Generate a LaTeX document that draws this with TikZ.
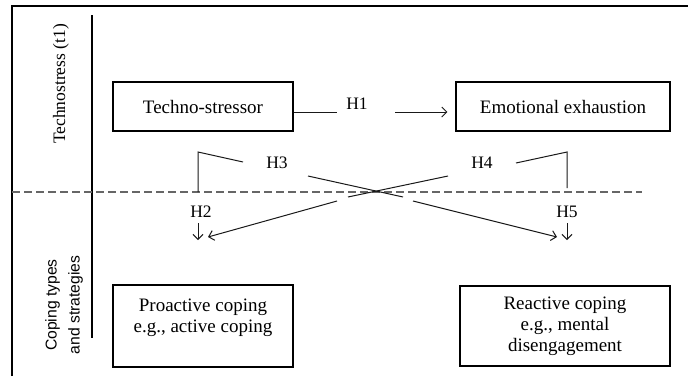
\documentclass[tikz,border=0pt]{standalone}
\usepackage{fontspec}
\setmainfont{Liberation Serif}
\setsansfont{Liberation Sans}
\usetikzlibrary{arrows.meta}
\begin{document}
\begin{tikzpicture}[x=1pt,y=-1pt,
  box/.style={draw, line width=1.1pt, inner sep=0pt, align=center,
    font=\fontsize{19}{21}\selectfont},
  hlab/.style={inner sep=0pt, font=\fontsize{17.5}{20}\selectfont},
  conn/.style={line width=1pt, draw=black!90},
  arr/.style={conn, -{Straight Barb[length=5pt,width=10pt]}},
  sepdash/.style={line width=1.3pt, draw=black!60, dash pattern=on 8pt off 4pt}]
\useasboundingbox (0,0) rectangle (688,376);
% frame and separators
\draw[line width=2.2pt] (12,376) -- (12,6) -- (688,6);
\draw[line width=1.1pt] (92,15) -- (92,338);
\draw[sepdash] (12,192) -- (642,192);
% side labels
\node[rotate=90, inner sep=0pt, font=\fontsize{17.5}{20}\selectfont] (lt) at (61,84) {Technostress (t1)};
\node[rotate=90, inner sep=0pt, align=center, font=\sffamily\fontsize{15.7}{23}\selectfont] (lc) at (64,305) {Coping types\\and strategies};
% boxes
\node[box, minimum width=180pt, minimum height=49pt] (ts) at (203,106.5) {Techno-stressor};
\node[box, minimum width=214pt, minimum height=49pt] (ee) at (563,106.5) {Emotional exhaustion};
\node[box, minimum width=180pt, minimum height=82pt] (pc) at (203,326) {Proactive coping\\e.g., active coping\\ \mbox{}};
\node[box, minimum width=210pt, minimum height=80pt] (rc) at (565,326) {Reactive coping\\e.g., mental\\disengagement};
% hypothesis labels
\node[hlab] (h1) at (357,104) {H1};
\node[hlab] (h3) at (277,163) {H3};
\node[hlab] (h4) at (482,163) {H4};
\node[hlab] (h2) at (201,212) {H2};
\node[hlab] (h5) at (567,212) {H5};
% coordinates
\coordinate (h1s) at (337,112);
\coordinate (h1t) at (395,112);
\coordinate (h3a) at (198,192);
\coordinate (h3b) at (198,152);
\coordinate (h3c) at (243,162);
\coordinate (h3d) at (308,176);
\coordinate (h3e) at (403,197);
\coordinate (h3f) at (413,201);
\coordinate (h3g) at (557,237);
\coordinate (h4a) at (567,188);
\coordinate (h4b) at (567,152);
\coordinate (h4c) at (516,163);
\coordinate (h4d) at (448,176);
\coordinate (h4e) at (348,197);
\coordinate (h4f) at (337,201);
\coordinate (h4g) at (208,237);
\coordinate (h2s) at (198,223);
\coordinate (h2t) at (198,240);
\coordinate (h5s) at (567,223);
\coordinate (h5t) at (567,240);
% connectors
\draw[conn] ([yshift=-5.5pt]ts.east) -- (h1s);
\draw[arr] (h1t) -- ([xshift=-8pt,yshift=-5.5pt]ee.west);
\draw[conn] (h3a) -- (h3b) -- (h3c);
\draw[conn] (h3d) -- (h3e);
\draw[arr] (h3f) -- (h3g);
\draw[conn] (h4a) -- (h4b) -- (h4c);
\draw[conn] (h4d) -- (h4e);
\draw[arr] (h4f) -- (h4g);
\draw[arr] (h2s) -- (h2t);
\draw[arr] (h5s) -- (h5t);
\end{tikzpicture}
\end{document}
